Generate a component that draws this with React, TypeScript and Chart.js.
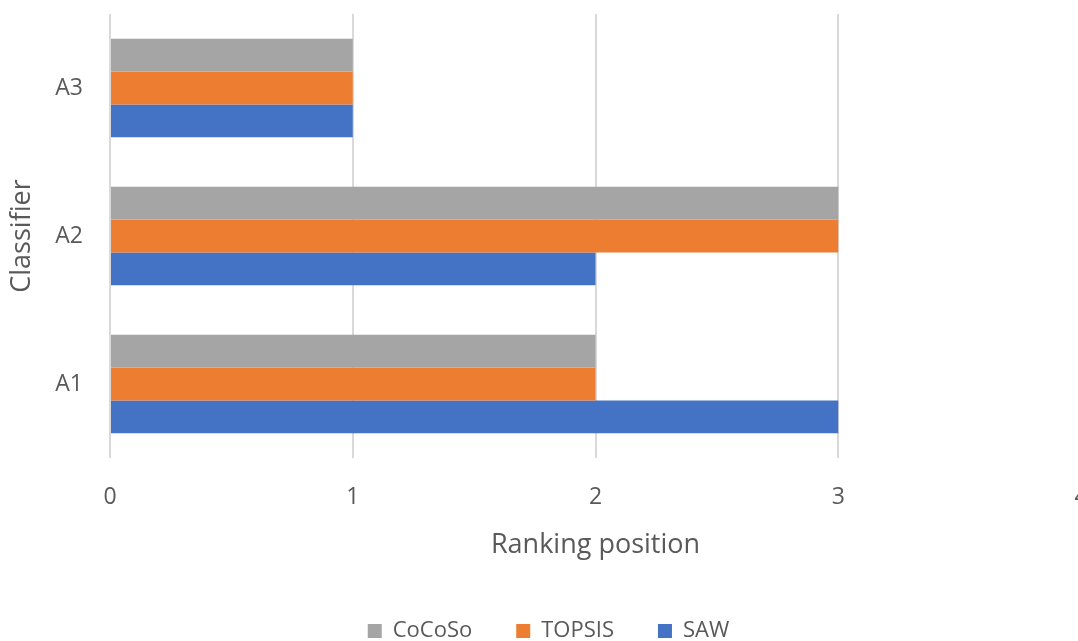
import React, { useEffect, useRef } from "react";
import { Chart, registerables } from "chart.js";

Chart.register(...registerables);

// Classifiers, listed top to bottom as drawn on the category axis
const categories = ["A3", "A2", "A1"];

// Ranking position of each classifier per method (same order as categories)
const cocosoRanks = [1, 3, 2];
const topsisRanks = [1, 3, 2];
const sawRanks = [1, 2, 3];

const xTicks = [0, 1, 2, 3, 4];

const FONT = "'Open Sans', Lato, sans-serif";
const TEXT = "#595959";

// The plot runs a little past the right edge of the visible frame,
// so the canvas is drawn larger than the clipping box around it.
const CANVAS_W = 1100;
const CANVAS_H = 652;

export default function App() {
  const ref = useRef<HTMLCanvasElement | null>(null);

  useEffect(() => {
    document.body.style.margin = "0";
    document.body.style.overflow = "hidden";
    const ctx = ref.current!.getContext("2d")!;
    const chart = new Chart(ctx, {
      type: "bar",
      data: {
        labels: categories,
        datasets: [
          { label: "CoCoSo", data: cocosoRanks, backgroundColor: "#A5A5A5" },
          { label: "TOPSIS", data: topsisRanks, backgroundColor: "#ED7D31" },
          { label: "SAW", data: sawRanks, backgroundColor: "#4472C4" },
        ],
      },
      options: {
        indexAxis: "y",
        responsive: false,
        animation: false,
        layout: { padding: { top: 14, right: 19, left: 16, bottom: 0 } },
        datasets: {
          bar: { categoryPercentage: 0.665, barPercentage: 1 },
        },
        plugins: {
          tooltip: { enabled: false },
          legend: {
            position: "bottom",
            labels: {
              font: { family: FONT, size: 22 },
              color: TEXT,
              boxWidth: 14,
              boxHeight: 14,
              padding: 44,
            },
          },
        },
        scales: {
          x: {
            min: 0,
            max: 4,
            afterBuildTicks: (s: any) => {
              s.ticks = xTicks.map((v) => ({ value: v }));
            },
            afterFit: (s: any) => {
              s.height = 118;
              s.paddingLeft = 0;
              s.paddingRight = 0;
            },
            grid: { color: "#D9D9D9", lineWidth: 2, drawTicks: false },
            border: { display: false },
            ticks: {
              font: { family: FONT, size: 23 },
              color: TEXT,
              padding: 26,
            },
            title: {
              display: true,
              text: "Ranking position",
              font: { family: FONT, size: 27 },
              color: TEXT,
              padding: { top: 0, bottom: 14 },
            },
          },
          y: {
            afterFit: (s: any) => {
              s.width = 94;
              s.paddingTop = 0;
              s.paddingBottom = 0;
            },
            grid: { display: false, drawTicks: false },
            border: { display: false },
            ticks: {
              font: { family: FONT, size: 23 },
              color: TEXT,
              padding: 27,
            },
            title: {
              display: true,
              text: "Classifier",
              font: { family: FONT, size: 27 },
              color: TEXT,
              padding: { top: -10, bottom: 0 },
            },
          },
        },
      },
    });
    return () => chart.destroy();
  }, []);

  return (
    <div
      style={{
        position: "fixed",
        left: 0,
        top: 0,
        width: 1078,
        height: 641,
        overflow: "hidden",
        background: "#fff",
      }}
    >
      <canvas ref={ref} width={CANVAS_W} height={CANVAS_H} />
    </div>
  );
}
